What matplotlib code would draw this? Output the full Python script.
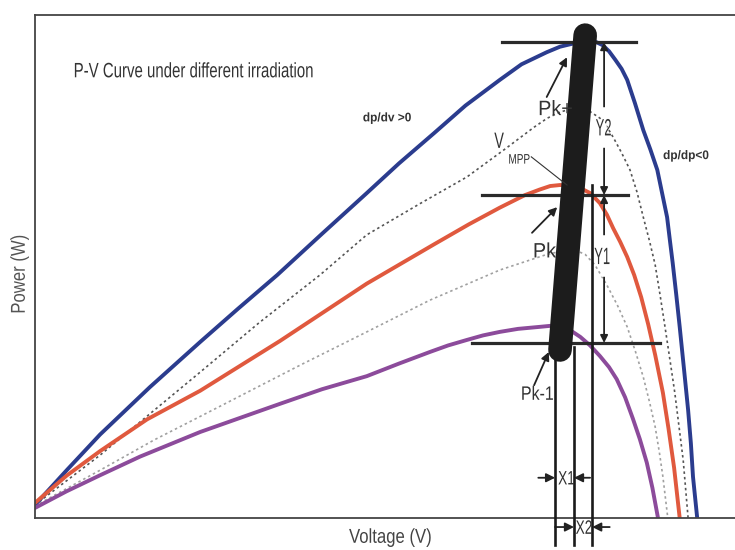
import matplotlib
matplotlib.use("Agg")
import matplotlib.pyplot as plt
from matplotlib.textpath import TextPath
from matplotlib.patches import PathPatch
from matplotlib.font_manager import FontProperties
from matplotlib.transforms import Affine2D, ScaledTranslation

# P-V curves at three irradiation levels (voltage, power), plus two intermediate dotted ones
v_high = [0, 4.6, 9.3, 16.4, 23.6, 29.0, 34.6, 41.0, 47.4, 52.0, 57.0, 61.5,
          66.4, 69.5, 73.1, 75.0, 77.1, 79.3, 80.2, 81.1, 82.0, 82.9, 83.8, 84.6, 85.7,
          86.9, 87.9, 88.9, 89.6, 90.3, 90.7, 91.1, 91.6, 92.1, 92.7, 93.3, 93.7, 94.0, 94.6]
p_high = [2.6, 9.6, 16.6, 26.0, 35.0, 41.6, 48.3, 56.5, 64.6, 70.5, 76.5, 82.0,
          87.1, 90.2, 92.6, 93.7, 94.4, 94.8, 94.6, 94.0, 92.8, 91.1, 89.3, 87.1, 82.5,
          77.1, 73.3, 69.2, 64.5, 59.8, 55.2, 50.7, 44.5, 38.0, 29.8, 21.5, 14.8, 8.2, 0]

v_mid = [0, 4.5, 9.3, 16.0, 23.6, 35.0, 47.4, 57.0, 62.0, 66.4, 70.0, 72.1, 73.6, 75.0,
         76.5, 77.9, 79.3, 80.7, 81.7, 82.6, 83.6, 84.6, 85.6, 86.6, 87.6, 88.6, 89.7,
         90.5, 91.3, 92.1]
p_mid = [3.0, 8.4, 13.3, 19.6, 25.3, 35.2, 46.6, 54.4, 58.4, 61.7, 64.2, 65.3, 66.0, 66.2,
         66.1, 65.6, 64.6, 62.6, 60.3, 57.6, 54.9, 51.9, 48.3, 43.9, 38.5, 32.4, 24.9,
         17.8, 10.0, 0]

v_low = [0, 4.5, 9.3, 15.0, 23.6, 29.5, 35.0, 41.0, 47.4, 52.0, 56.4, 59.0, 61.7, 64.0,
         66.4, 69.0, 72.1, 73.6, 75.0, 76.5, 77.9, 79.3, 80.7, 82.0, 83.1, 84.3, 85.4,
         86.4, 87.4, 88.2, 89.0]
p_low = [2.0, 5.3, 8.5, 12.2, 17.1, 20.0, 22.7, 25.6, 28.2, 30.7, 33.0, 34.3, 35.4, 36.3,
         37.0, 37.6, 38.0, 38.2, 38.0, 37.3, 36.0, 34.3, 32.2, 30.0, 27.6, 24.0, 19.8,
         15.7, 11.0, 6.0, 0]

v_dot1 = [0, 9.3, 23.6, 32.0, 40.7, 47.4, 55.0, 61.7, 67.0, 71.3, 73.2, 75.0, 76.5, 77.9,
          79.3, 80.7, 81.7, 82.6, 83.8, 85.0, 86.0, 86.9, 87.8, 88.6, 89.3, 90.0, 90.7,
          91.4, 92.0, 92.6, 93.3]
p_dot1 = [2.6, 12.5, 29.0, 38.8, 48.3, 56.3, 62.5, 67.8, 73.2, 77.7, 79.5, 80.7, 81.3, 81.4,
          80.8, 79.5, 77.8, 75.7, 72.6, 69.2, 64.8, 59.8, 55.0, 50.3, 44.3, 38.0, 31.5,
          24.9, 18.2, 11.5, 0]

v_dot2 = [0, 9.3, 17.0, 26.0, 37.9, 47.4, 56.4, 66.4, 72.9, 75.0, 77.1, 78.6, 80.0, 81.7,
          83.2, 84.6, 85.8, 86.9, 87.8, 88.6, 89.2, 89.7, 90.4]
p_dot2 = [2.4, 9.5, 15.5, 21.9, 30.4, 37.0, 43.3, 49.3, 52.3, 53.0, 53.3, 52.4, 50.3, 46.3,
          42.3, 38.0, 33.0, 28.0, 23.0, 18.1, 13.0, 8.2, 0]

# operating points P(k+1), P(k), P(k-1) and their voltages
p_ops = [94.6, 64.2, 34.8]
h_spans = [(66.7, 85.9), (63.9, 84.7), (62.4, 89.3)]
v_lines = [74.3, 77.0, 79.6]
v_tops = [33.0, 34.0, 66.2]

INK = "#333333"


def narrow_text(ax, x, y, s, size, squeeze=0.75, ha="center", weight="normal",
                color=INK, rotation=0, clip=True):
    # condensed text: glyph outlines squeezed horizontally, placed at data point (x, y)
    fp = FontProperties(family="Liberation Sans", weight=weight)
    tp = TextPath((0, 0), s, size=size, prop=fp)
    ext = tp.get_extents()
    w = ext.width * squeeze
    dx = {"left": 0, "center": -w / 2, "right": -w}[ha] - ext.x0 * squeeze
    dy = -(ext.y0 + ext.height / 2)
    tr = (Affine2D().scale(squeeze, 1).translate(dx, dy).rotate_deg(rotation)
          .scale(ax.figure.dpi / 72) + ScaledTranslation(x, y, ax.transData))
    patch = PathPatch(tp, transform=tr, fc=color, ec="none", clip_on=clip, zorder=7)
    ax.add_patch(patch)


fig = plt.figure(figsize=(7.35, 5.5), dpi=100)
ax = fig.add_axes([0.0476, 0.0582, 0.9524, 0.9145])
ax.set_xlim(0, 100)
ax.set_ylim(0, 100)
ax.set_xticks([])
ax.set_yticks([])
for side in ["left", "top", "bottom"]:
    ax.spines[side].set_color("#444444")
    ax.spines[side].set_linewidth(1.3)
ax.spines["right"].set_visible(False)

ax.plot(v_dot1, p_dot1, color="#555555", lw=1.2, ls=(0, (1.5, 1.8)))
ax.plot(v_dot2, p_dot2, color="#a0a0a0", lw=1.2, ls=(0, (1.5, 1.8)))
curve = dict(lw=2.8, solid_capstyle="round", solid_joinstyle="round")
ax.plot(v_high, p_high, color="#2b3c8e", **curve)
ax.plot(v_mid, p_mid, color="#e0593e", **curve)
ax.plot(v_low, p_low, color="#8c4b9b", **curve)

# MPP locus drawn as a thick marker band
ax.plot([78.6, 75.0], [96.0, 33.4], color="#1c1c1c", lw=17, solid_capstyle="round", zorder=5)

for p, (x0, x1) in zip(p_ops, h_spans):
    ax.plot([x0, x1], [p, p], color="#2a2a2a", lw=2.3, zorder=4)

for x, top in zip(v_lines, v_tops):
    ax.plot([x, x], [top, -5.4], color="#1a1a1a", lw=1.9, clip_on=False, zorder=4)

arrow = dict(arrowstyle="<|-|>", color="#222222", lw=1.3, mutation_scale=11,
             shrinkA=0, shrinkB=0)
ax.annotate("", xy=(81.3, p_ops[0]), xytext=(81.3, p_ops[1]), arrowprops=arrow)
ax.annotate("", xy=(81.3, p_ops[1]), xytext=(81.3, p_ops[2]), arrowprops=arrow)
# white gaps in the dimension line behind the labels
ax.plot([81.3, 81.3], [74.2, 81.2], color="white", lw=4, zorder=6)
ax.plot([81.3, 81.3], [48.6, 55.6], color="white", lw=4, zorder=6)
narrow_text(ax, 81.2, 77.7, "Y2", 17, squeeze=0.55)
narrow_text(ax, 81.0, 52.1, "Y1", 17, squeeze=0.55)

head = dict(arrowstyle="-|>", color="#222222", lw=1.3, mutation_scale=13,
            shrinkA=0, shrinkB=0)
ax.annotate("", xy=(v_lines[0], 8.0), xytext=(71.9, 8.0), arrowprops=head)
ax.annotate("", xy=(v_lines[1], 8.0), xytext=(79.3, 8.0), arrowprops=head)
narrow_text(ax, 75.9, 8.0, "X1", 14, squeeze=0.7)
ax.annotate("", xy=(v_lines[1], -1.8), xytext=(74.3, -1.8), arrowprops=head,
            annotation_clip=False)
ax.annotate("", xy=(v_lines[2], -1.8), xytext=(82.1, -1.8), arrowprops=head,
            annotation_clip=False)
narrow_text(ax, 78.4, -1.8, "X2", 14, squeeze=0.7, clip=False)

pointer = dict(arrowstyle="-|>", color="#222222", lw=1.3, mutation_scale=12,
               shrinkA=0, shrinkB=0)
ax.annotate("", xy=(76.0, 91.6), xytext=(73.1, 83.7), arrowprops=pointer, zorder=6)
ax.annotate("", xy=(74.6, 61.8), xytext=(71.0, 56.7), arrowprops=pointer, zorder=6)
ax.annotate("", xy=(73.4, 33.0), xytext=(71.3, 26.4), arrowprops=pointer, zorder=6)
narrow_text(ax, 74.4, 81.6, "Pk+", 15, squeeze=0.95)
narrow_text(ax, 72.9, 53.3, "Pk", 15, squeeze=0.95)
narrow_text(ax, 71.8, 24.9, "Pk-1", 14, squeeze=0.82)

narrow_text(ax, 66.3, 75.1, "V", 16, squeeze=0.65)
narrow_text(ax, 69.2, 71.4, "MPP", 10, squeeze=0.72)
ax.plot([70.9, 76.0], [71.8, 66.2], color=INK, lw=0.8, zorder=6)

narrow_text(ax, 5.7, 89.1, "P-V Curve under different irradiation", 15,
            squeeze=0.72, ha="left")
narrow_text(ax, 50.3, 79.5, "dp/dv >0", 9, squeeze=0.95, weight="bold")
narrow_text(ax, 93.0, 72.0, "dp/dp<0", 9, squeeze=0.95, weight="bold")

narrow_text(ax, 50.7, -3.9, "Voltage (V)", 14.5, squeeze=0.83, color="#444444", clip=False)
narrow_text(ax, -2.2, 48.5, "Power (W)", 14.5, squeeze=0.83, color="#555555",
            rotation=90, clip=False)

fig.savefig("out.png", dpi=100)
